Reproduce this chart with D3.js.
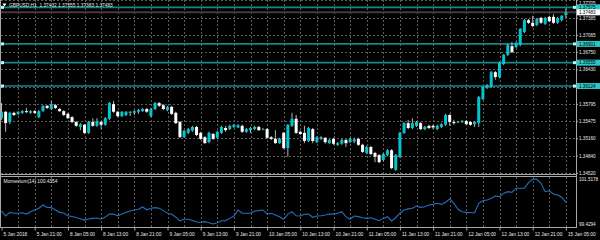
<!DOCTYPE html>
<html><head><meta charset="utf-8">
<script src="https://cdn.jsdelivr.net/npm/d3@7"></script>
<style>html,body{margin:0;padding:0;background:#000;overflow:hidden}svg{display:block}</style>
</head><body><svg id="c" width="600" height="240"></svg>
<script>
const symbolText = "GBPUSD,H1  1.37432 1.37555 1.37383 1.37483";
const momLabel = "Momentum(14) 100.4354";
const timeLabels = ["5 Jan 2018","5 Jan 21:00","8 Jan 05:00","8 Jan 13:00","8 Jan 21:00","9 Jan 05:00","9 Jan 13:00","9 Jan 21:00","10 Jan 05:00","10 Jan 13:00","10 Jan 21:00","11 Jan 05:00","11 Jan 13:00","11 Jan 21:00","12 Jan 05:00","12 Jan 13:00","12 Jan 21:00","15 Jan 05:00"];
const priceTicks = [1.37705,1.37385,1.37065,1.36750,1.36430,1.36110,1.35795,1.35475,1.35160,1.34840,1.34520];
const levels = [1.37575,1.36901,1.36555,1.36124];
const bidPrice = 1.37483;
const momTicks = [101.5178, 99.4294];

const openP = [
1.3553,1.3565,1.3546,1.3563,1.3561,1.3563,1.3566,1.3563,1.3566,1.3555,
1.3566,1.3576,1.3570,1.3577,1.3570,1.3566,1.3561,1.3555,1.3546,1.3537,
1.3541,1.3526,1.3546,1.3539,1.3546,1.3541,1.3552,1.3579,1.3565,1.3557,
1.3559,1.3563,1.3563,1.3565,1.3566,1.3570,1.3557,1.3570,1.3581,1.3577,
1.3568,1.3574,1.3563,1.3546,1.3518,1.3526,1.3530,1.3537,1.3526,1.3518,
1.3509,1.3524,1.3517,1.3526,1.3535,1.3533,1.3537,1.3536,1.3539,1.3528,
1.3531,1.3533,1.3537,1.3533,1.3533,1.3518,1.3515,1.3507,1.3526,1.3498,
1.3539,1.3552,1.3528,1.3526,1.3511,1.3533,1.3509,1.3515,1.3517,1.3507,
1.3515,1.3504,1.3506,1.3513,1.3509,1.3510,1.3515,1.3504,1.3489,1.3500,
1.3489,1.3485,1.3476,1.3485,1.3494,1.3458,1.3482,1.3526,1.3544,1.3535,
1.3539,1.3544,1.3533,1.3539,1.3539,1.3533,1.3537,1.3541,1.3559,1.3546,
1.3546,1.3546,1.3548,1.3546,1.3542,1.3544,1.3588,1.3609,1.3611,1.3638,
1.3629,1.3653,1.3670,1.3686,1.3684,1.3688,1.3712,1.3734,1.3729,1.3725,
1.3738,1.3727,1.3740,1.3740,1.3729,1.3734,1.37432];
const highP = [
1.3581,1.3566,1.3565,1.3565,1.3566,1.3568,1.3572,1.3568,1.3568,1.3568,
1.3577,1.3577,1.3585,1.3579,1.3572,1.3568,1.3563,1.3557,1.3548,1.3544,
1.3542,1.3548,1.3553,1.3553,1.3548,1.3555,1.3583,1.3585,1.3566,1.3566,
1.3566,1.3566,1.3568,1.3570,1.3572,1.3572,1.3572,1.3583,1.3583,1.3579,
1.3576,1.3576,1.3565,1.3548,1.3531,1.3535,1.3539,1.3539,1.3528,1.3520,
1.3528,1.3526,1.3530,1.3539,1.3539,1.3541,1.3542,1.3542,1.3541,1.3535,
1.3537,1.3539,1.3539,1.3535,1.3535,1.3520,1.3531,1.3517,1.3528,1.3542,
1.3563,1.3559,1.3530,1.3539,1.3537,1.3535,1.3520,1.3520,1.3518,1.3515,
1.3517,1.3509,1.3515,1.3515,1.3517,1.3517,1.3517,1.3506,1.3502,1.3502,
1.3491,1.3487,1.3489,1.3496,1.3496,1.3487,1.3528,1.3546,1.3550,1.3553,
1.3548,1.3546,1.3539,1.3541,1.3541,1.3541,1.3544,1.3561,1.3561,1.3550,
1.3548,1.3550,1.3550,1.3548,1.3548,1.3594,1.3612,1.3616,1.3640,1.3640,
1.3657,1.3671,1.3690,1.3694,1.3694,1.3719,1.3736,1.3736,1.3742,1.3738,
1.3740,1.3740,1.3742,1.3745,1.3740,1.3743,1.37555];
const lowP = [
1.3550,1.3528,1.3542,1.3557,1.3559,1.3561,1.3563,1.3561,1.3561,1.3553,
1.3565,1.3570,1.3568,1.3570,1.3565,1.3557,1.3552,1.3544,1.3537,1.3531,
1.3524,1.3524,1.3537,1.3537,1.3533,1.3539,1.3550,1.3563,1.3555,1.3555,
1.3557,1.3557,1.3559,1.3561,1.3565,1.3563,1.3555,1.3568,1.3574,1.3568,
1.3566,1.3559,1.3542,1.3517,1.3517,1.3524,1.3528,1.3520,1.3513,1.3506,
1.3507,1.3513,1.3515,1.3524,1.3528,1.3531,1.3535,1.3535,1.3526,1.3526,
1.3526,1.3531,1.3530,1.3531,1.3515,1.3513,1.3506,1.3506,1.3496,1.3482,
1.3537,1.3524,1.3522,1.3507,1.3509,1.3507,1.3507,1.3513,1.3506,1.3506,
1.3504,1.3502,1.3504,1.3500,1.3507,1.3507,1.3502,1.3489,1.3487,1.3485,
1.3472,1.3470,1.3474,1.3483,1.3459,1.3456,1.3480,1.3524,1.3533,1.3533,
1.3537,1.3531,1.3531,1.3533,1.3533,1.3531,1.3535,1.3539,1.3539,1.3541,
1.3544,1.3544,1.3541,1.3539,1.3537,1.3537,1.3587,1.3607,1.3609,1.3624,
1.3627,1.3651,1.3668,1.3673,1.3683,1.3686,1.3710,1.3727,1.3721,1.3723,
1.3727,1.3725,1.3730,1.3727,1.3727,1.3732,1.37383];
const closeP = [
1.3565,1.3544,1.3563,1.3559,1.3565,1.3566,1.3565,1.3566,1.3563,1.3566,
1.3576,1.3572,1.3579,1.3572,1.3566,1.3559,1.3553,1.3546,1.3539,1.3542,
1.3526,1.3546,1.3539,1.3548,1.3541,1.3553,1.3581,1.3565,1.3557,1.3565,
1.3565,1.3565,1.3566,1.3568,1.3570,1.3565,1.3570,1.3581,1.3576,1.3570,
1.3574,1.3561,1.3544,1.3518,1.3530,1.3533,1.3537,1.3522,1.3515,1.3507,
1.3526,1.3515,1.3528,1.3537,1.3531,1.3539,1.3541,1.3540,1.3528,1.3533,
1.3535,1.3537,1.3531,1.3533,1.3517,1.3515,1.3507,1.3515,1.3498,1.3541,
1.3552,1.3526,1.3524,1.3511,1.3535,1.3511,1.3518,1.3518,1.3509,1.3513,
1.3506,1.3507,1.3513,1.3507,1.3515,1.3514,1.3504,1.3491,1.3500,1.3487,
1.3482,1.3472,1.3487,1.3494,1.3461,1.3485,1.3526,1.3544,1.3535,1.3544,
1.3546,1.3533,1.3537,1.3535,1.3536,1.3539,1.3542,1.3559,1.3546,1.3544,
1.3546,1.3548,1.3542,1.3541,1.3546,1.3592,1.3611,1.3614,1.3638,1.3629,
1.3655,1.3670,1.3688,1.3675,1.3692,1.3718,1.3734,1.3729,1.3723,1.3736,
1.3729,1.3738,1.3732,1.3729,1.3738,1.3742,1.37483];
const momentum = [
100.03,99.80,99.97,99.93,99.93,99.95,99.89,100.00,100.08,100.16,
100.31,100.20,100.19,100.08,99.97,99.94,99.81,99.78,99.73,99.67,
99.61,99.66,99.69,99.71,99.65,99.75,99.89,99.89,99.81,99.89,
99.97,100.03,100.08,100.11,100.22,100.09,100.16,100.19,100.16,100.05,
99.93,99.88,99.75,99.57,99.65,99.65,99.59,99.52,99.51,99.54,
99.49,99.4294,99.49,99.58,99.58,99.69,99.80,100.08,99.93,99.93,
99.93,100.03,100.05,100.08,99.89,99.93,99.85,99.77,99.65,99.89,
100.00,99.81,99.80,99.88,99.89,99.74,99.80,99.81,99.85,99.89,
99.89,99.93,100.00,99.77,99.65,99.80,99.77,99.72,99.69,99.72,
99.65,99.58,99.69,99.77,99.57,99.72,99.93,100.08,100.13,100.16,
100.26,100.20,100.23,100.31,100.34,100.39,100.34,100.44,100.59,100.39,
100.11,100.00,99.97,99.95,99.95,100.39,100.51,100.54,100.62,100.73,
100.70,100.85,100.93,100.90,101.09,101.09,101.09,101.35,101.5178,101.50,
101.32,100.93,100.97,100.82,100.78,100.67,100.4354];

const FONT = "'Liberation Sans', Arial, sans-serif";
const svg = d3.select("#c");
const N = openP.length;
const x = d3.scaleLinear().domain([0, N - 1]).range([1.5, 565.9]);
const y = d3.scaleLinear().domain([1.34520, 1.37705]).range([173, 0.3]);
const ym = d3.scaleLinear().domain([99.4294, 101.5178]).range([224, 179]);
const px = v => Math.round(v) + 0.5;

svg.append("rect").attr("width", 600).attr("height", 240).attr("fill", "#000");

const grid = svg.append("g").attr("stroke", "#5c5c5c").attr("stroke-width", 1).attr("stroke-dasharray", "2,2");
grid.selectAll("line.h").data(priceTicks).join("line").attr("class", "h")
  .attr("x1", 1).attr("x2", 576).attr("y1", d => px(y(d))).attr("y2", d => px(y(d)));
const vIdx = d3.range(4, N, 4);
grid.selectAll("line.v").data(vIdx).join("line").attr("class", "v")
  .attr("x1", d => px(x(d))).attr("x2", d => px(x(d))).attr("y1", 0).attr("y2", 174);
grid.selectAll("line.vm").data(vIdx).join("line").attr("class", "vm")
  .attr("x1", d => px(x(d))).attr("x2", d => px(x(d))).attr("y1", 177).attr("y2", 227);

// bid line
svg.append("line").attr("x1", 0).attr("x2", 576).attr("y1", y(bidPrice)).attr("y2", y(bidPrice))
  .attr("stroke", "#3d3d3d").attr("stroke-width", 2);

// level lines
const lv = svg.append("g");
lv.selectAll("line").data(levels).join("line")
  .attr("x1", 0).attr("x2", 576).attr("y1", d => y(d)).attr("y2", d => y(d))
  .attr("stroke", "#13878c").attr("stroke-width", 1.6);
lv.selectAll("rect.l").data(levels).join("rect").attr("class", "l")
  .attr("x", 1).attr("y", d => y(d) - 1.5).attr("width", 3).attr("height", 3).attr("fill", "#b8f4f4");
lv.selectAll("rect.r").data(levels).join("rect").attr("class", "r")
  .attr("x", 573).attr("y", d => y(d) - 1.5).attr("width", 3).attr("height", 3).attr("fill", "#b8f4f4");

// candles
const idx = d3.range(N);
const cg = svg.append("g");
cg.selectAll("line").data(idx).join("line")
  .attr("x1", i => x(i)).attr("x2", i => x(i))
  .attr("y1", i => y(highP[i])).attr("y2", i => y(lowP[i]))
  .attr("stroke", "#c8c8c8").attr("stroke-width", 0.9);
cg.selectAll("rect").data(idx).join("rect")
  .attr("x", i => x(i) - 1.5).attr("width", 3)
  .attr("y", i => Math.min(y(openP[i]), y(closeP[i])))
  .attr("height", i => Math.max(1, Math.abs(y(openP[i]) - y(closeP[i]))))
  .attr("fill", i => closeP[i] > openP[i] ? "#00c6cf" : (closeP[i] < openP[i] ? "#ffffff" : "#00b000"));

// frames
const fr = svg.append("g").attr("stroke", "#a8a8a8").attr("stroke-width", 1);
fr.append("line").attr("x1", 0.5).attr("x2", 0.5).attr("y1", 0).attr("y2", 227);
fr.append("line").attr("x1", 576.5).attr("x2", 576.5).attr("y1", 0).attr("y2", 228);
fr.append("line").attr("x1", 0).attr("x2", 577).attr("y1", 174.5).attr("y2", 174.5);
fr.append("line").attr("x1", 0).attr("x2", 577).attr("y1", 176.5).attr("y2", 176.5);
fr.append("line").attr("x1", 0).attr("x2", 577).attr("y1", 227.5).attr("y2", 227.5);

// momentum line
svg.append("path").datum(idx)
  .attr("d", d3.line().x(i => x(i)).y(i => ym(momentum[i])))
  .attr("fill", "none").attr("stroke", "#2470bd").attr("stroke-width", 1.1);

// right price axis
const ra = svg.append("g").attr("transform", "translate(576,0)")
  .call(d3.axisRight(y).tickValues(priceTicks).tickSize(2).tickPadding(1).tickFormat(d3.format(".5f")));
ra.select(".domain").remove();
ra.selectAll("line").attr("stroke", "#a8a8a8");
ra.selectAll("text").attr("fill", "#e8e8e8").attr("font-family", FONT).attr("font-size", 4.6).attr("x", 3)
  .attr("dy", d => y(d) < 3 ? "0.9em" : "0.32em");

// level labels
const ll = svg.append("g");
ll.selectAll("rect").data(levels).join("rect")
  .attr("x", 577).attr("y", d => y(d) - 3).attr("width", 23).attr("height", 6).attr("fill", "#2cc6c6");
ll.selectAll("text").data(levels).join("text")
  .attr("x", 579).attr("y", d => y(d) + 1.7).text(d => d3.format(".5f")(d))
  .attr("fill", "#000").attr("font-family", FONT).attr("font-size", 4.6);
svg.append("rect").attr("x", 577).attr("y", y(bidPrice) - 3).attr("width", 23).attr("height", 6).attr("fill", "#fff");
svg.append("text").attr("x", 579).attr("y", y(bidPrice) + 1.7).text(d3.format(".5f")(bidPrice))
  .attr("fill", "#000").attr("font-family", FONT).attr("font-size", 4.6);

// momentum axis labels
svg.append("g").selectAll("text").data(momTicks).join("text")
  .attr("x", 579).attr("y", d => ym(d) + 1.7).text(d => d)
  .attr("fill", "#e8e8e8").attr("font-family", FONT).attr("font-size", 4.6);

// time axis
const labIdx = d3.range(0, N, 8);
const ta = svg.append("g").attr("transform", "translate(0,227.5)")
  .call(d3.axisBottom(x).tickValues(labIdx).tickSize(3).tickPadding(2).tickFormat((d, i) => timeLabels[i]));
ta.select(".domain").remove();
ta.selectAll("line").attr("stroke", "#a8a8a8");
ta.selectAll("text").attr("fill", "#e8e8e8").attr("font-family", FONT).attr("font-size", 4.8)
  .attr("text-anchor", "start").attr("dx", 1.5);

// header
svg.append("path").attr("d", "M2.5,3.5 L6.5,3.5 L4.5,6.5 Z").attr("fill", "#fff");
svg.append("text").attr("x", 9).attr("y", 6.8).text(symbolText)
  .attr("fill", "#e8e8e8").attr("font-family", FONT).attr("font-size", 4.8).attr("xml:space", "preserve");
svg.append("text").attr("x", 3.5).attr("y", 182.5).text(momLabel)
  .attr("fill", "#e8e8e8").attr("font-family", FONT).attr("font-size", 4.8);
</script></body></html>
